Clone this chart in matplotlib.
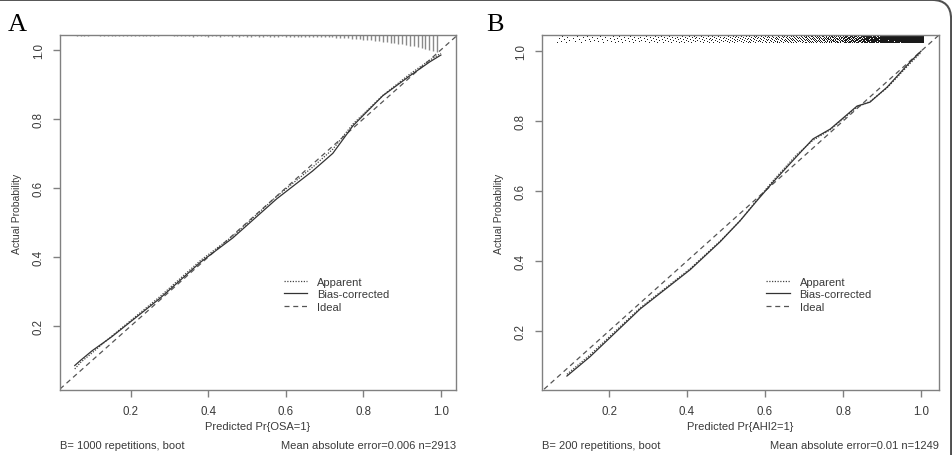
import numpy as np
import matplotlib.pyplot as plt
from matplotlib.patches import FancyBboxPatch

plt.rcParams['font.family'] = ['Liberation Sans', 'DejaVu Sans']

# Panel A: calibration curves (OSA)
a_x = [0.055, 0.07, 0.10, 0.15, 0.275, 0.38, 0.463, 0.576, 0.669, 0.721, 0.773, 0.85, 0.92, 0.971, 1.0]
a_bias = [0.085, 0.10, 0.128, 0.168, 0.28, 0.385, 0.455, 0.568, 0.649, 0.70, 0.78, 0.867, 0.925, 0.965, 0.985]
a_app = [0.075, 0.094, 0.122, 0.17, 0.285, 0.39, 0.46, 0.575, 0.66, 0.712, 0.785, 0.868, 0.93, 0.97, 0.99]

# Panel A: spike histogram of predictions (bin centres 0.06..0.99, heights in px)
a_spike_x = np.round(np.arange(0.06, 0.995, 0.01), 2)
a_spike_h = [1, 1, 1, 1, 0, 0,
             1, 1, 1, 1, 1, 1, 1, 1, 1, 1, 1, 1, 1, 1, 1, 1,
             0, 0, 0,
             1, 1, 1, 1, 1, 2, 1, 1, 1, 2, 1, 1, 2, 1, 1, 2, 1, 2, 1, 2,
             2, 1, 2, 2, 1, 2, 2, 2, 1, 2, 2, 2, 2, 2, 2, 2, 2, 2, 2, 2,
             2, 2, 3, 3, 3, 3, 4, 4, 4, 5,
             5, 5, 6, 6, 7, 7, 8, 8, 9, 9,
             10, 11, 11, 12, 13, 14, 15, 16, 17]

# Panel B: calibration curves (AHI2)
b_x = [0.092, 0.151, 0.28, 0.408, 0.485, 0.536, 0.579, 0.621, 0.682, 0.723, 0.767, 0.836, 0.869, 0.913, 0.972, 1.0]
b_bias = [0.071, 0.126, 0.263, 0.375, 0.455, 0.515, 0.572, 0.626, 0.70, 0.749, 0.777, 0.843, 0.854, 0.897, 0.969, 1.0]
b_app = [0.076, 0.131, 0.266, 0.378, 0.457, 0.515, 0.574, 0.63, 0.705, 0.745, 0.775, 0.84, 0.856, 0.895, 0.965, 0.996]

# Panel B: rug of predictions, counts per bin
b_rug_edges = [0.065, 0.10, 0.15, 0.20, 0.25, 0.30, 0.35, 0.40, 0.45, 0.50, 0.55,
               0.60, 0.65, 0.70, 0.75, 0.80, 0.85, 0.90, 0.95, 1.005]
b_rug_counts = [8, 10, 12, 14, 16, 18, 20, 22, 25, 30, 35, 40, 50, 60, 75, 100, 150, 230, 334]

ticks = [0.2, 0.4, 0.6, 0.8, 1.0]
ink = '#3a3a3a'
frame = '#808080'

fig = plt.figure(figsize=(9.53, 4.56), dpi=100)
fig.patches.append(FancyBboxPatch((-0.02, -0.05), 1.018, 1.048,
                                  boxstyle='round,pad=0,rounding_size=0.02',
                                  transform=fig.transFigure, fill=False,
                                  edgecolor='#505050', linewidth=1.5, mutation_aspect=2.1))

axA = fig.add_axes([0.063, 0.1425, 0.4155, 0.7785])
axB = fig.add_axes([0.5687, 0.1425, 0.4166, 0.7785])


def style(ax, xlim, ylim):
    ax.set_xlim(*xlim)
    ax.set_ylim(*ylim)
    ax.set_xticks(ticks)
    ax.set_yticks(ticks)
    ax.set_xticklabels(['0.2', '0.4', '0.6', '0.8', '1.0'])
    ax.set_yticklabels(['0.2', '0.4', '0.6', '0.8', '1.0'], rotation=90, va='center')
    ax.tick_params(length=5, width=1, color=frame, labelsize=8.3, labelcolor=ink, pad=6)
    for s in ax.spines.values():
        s.set_color(frame)
        s.set_linewidth(1)
    ax.set_ylabel('Actual Probability', fontsize=7.5, color=ink, labelpad=8)


def curves(ax, x, app, bias):
    ax.plot([0, 1.1], [0, 1.1], linestyle=(0, (4, 3)), color='#555555', lw=0.9, label='Ideal')
    ax.plot(x, app, linestyle=(0, (1, 1.2)), color='#444444', lw=0.9, label='Apparent')
    ax.plot(x, bias, linestyle='-', color='#333333', lw=0.9, label='Bias-corrected')
    h, l = ax.get_legend_handles_labels()
    order = [1, 2, 0]
    ax.legend([h[i] for i in order], [l[i] for i in order], loc='upper left',
              bbox_to_anchor=(0.565, 0.318), frameon=False, fontsize=8,
              handlelength=2.1, handletextpad=0.9, labelspacing=0.2,
              borderpad=0, borderaxespad=0, labelcolor=ink)


# ---- Panel A
style(axA, (0.017, 1.039), (0.014, 1.043))
curves(axA, a_x, a_app, a_bias)
topA = 1.043
axA.vlines(a_spike_x, topA - np.array(a_spike_h) / 345.0, topA, color='#8a8a8a', lw=1)
axA.set_xlabel('Predicted Pr{OSA=1}', fontsize=8, color=ink, labelpad=3)
axA.text(0.0, -0.155, 'B= 1000 repetitions, boot', transform=axA.transAxes,
         fontsize=8, color=ink, ha='left', va='center')
axA.text(1.0, -0.155, 'Mean absolute error=0.006 n=2913', transform=axA.transAxes,
         fontsize=8, color=ink, ha='right', va='center')

# ---- Panel B
style(axB, (0.028, 1.046), (0.031, 1.046))
curves(axB, b_x, b_app, b_bias)
rx, ry = [], []
golden = 0.6180339887
k = 0
for lo, hi, n in zip(b_rug_edges[:-1], b_rug_edges[1:], b_rug_counts):
    for j in range(n):
        rx.append(lo + (hi - lo) * (j + 0.5) / n)
        ry.append(1.022 + 0.022 * ((k * golden) % 1.0))
        k += 1
axB.plot(rx, ry, linestyle='none', marker=',', color='#1a1a1a')
axB.set_xlabel('Predicted Pr{AHI2=1}', fontsize=8, color=ink, labelpad=3)
axB.text(0.0, -0.155, 'B= 200 repetitions, boot', transform=axB.transAxes,
         fontsize=8, color=ink, ha='left', va='center')
axB.text(1.0, -0.155, 'Mean absolute error=0.01 n=1249', transform=axB.transAxes,
         fontsize=8, color=ink, ha='right', va='center')

fig.text(0.008, 0.945, 'A', fontsize=19, family='Liberation Serif', ha='left', va='center')
fig.text(0.510, 0.945, 'B', fontsize=19, family='Liberation Serif', ha='left', va='center')

fig.savefig('out.png', dpi=100)
